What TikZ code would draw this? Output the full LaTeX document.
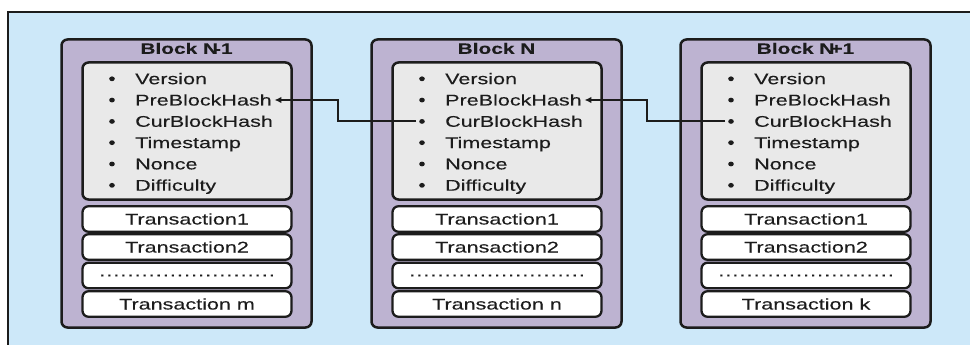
\documentclass[tikz,border=0pt]{standalone}
\usepackage{fontspec}
\setmainfont{Liberation Sans}[FakeStretch=1.39, FakeBold=0.15]
\usetikzlibrary{arrows.meta,shapes.geometric}

\definecolor{panelblue}{RGB}{205,232,249}
\definecolor{blockpurple}{RGB}{189,179,209}
\definecolor{headgray}{RGB}{233,233,233}
\definecolor{ink}{RGB}{28,28,28}

% one evenly spaced dot of the filler row
\newcommand\txdot{\hbox to 7.06pt{\hss.\hss}}

\tikzset{
  basefont/.style={font=\fontsize{15.5}{18}\selectfont},
  blockbox/.style={draw=ink, line width=2.5pt, fill=blockpurple, rounded corners=6pt,
    minimum width=250pt, minimum height=288pt, inner sep=0pt},
  headbox/.style={draw=ink, line width=2.5pt, fill=headgray, rounded corners=6pt,
    minimum width=209pt, minimum height=137pt, inner sep=0pt},
  txbox/.style={draw=ink, line width=2.3pt, fill=white, rounded corners=6pt,
    minimum width=209pt, minimum height=25.5pt, inner sep=0pt,
    text height=11pt, text depth=0pt, text=ink, basefont},
  blocktitle/.style={inner sep=0pt, text height=11pt, text depth=0pt, text=ink,
    font=\bfseries\fontsize{15}{18}\selectfont},
  fieldtext/.style={anchor=base west, inner xsep=2.5pt, inner ysep=0pt,
    text height=11pt, text depth=0pt, text=ink, basefont},
  bulletmark/.style={ellipse, fill=ink, inner sep=0pt,
    minimum width=5.6pt, minimum height=4.8pt},
  link/.style={draw=ink, line width=2pt, -{Latex[length=7pt,width=6.5pt]}},
}

\begin{document}
\begin{tikzpicture}[x=1pt,y=-1pt]
  \useasboundingbox (0,0) rectangle (970,345);

  % panel behind the chain
  \fill[white] (0,0) rectangle (970,345);
  \fill[panelblue] (8,12) rectangle (970,345);
  \draw[ink, line width=1.6pt] (8,345) -- (8,12) -- (970,12);

  % the three blocks
  \foreach \i/\dx/\ttl/\lastid in {1/0/{Block N\kern-4pt-1}/m,
                                   2/310/{Block N}/n,
                                   3/619/{Block N\kern-4pt+1}/k} {
    \begin{scope}[xshift=\dx pt]
      \node[blockbox] (blk\i) at (186.5,183.5) {};
      \node[blocktitle] (ttl\i) at (186.5,48.3) {\ttl};
      \node[headbox] (hdr\i) at (187,131) {};
      \foreach \nm/\txt [count=\rowno] in {ver/Version, pre/PreBlockHash,
          cur/CurBlockHash, ts/Timestamp, non/Nonce, dif/Difficulty} {
        \node[bulletmark] (b\i-\nm) at (112,{78.8+21.3*(\rowno-1)}) {};
        \node[fieldtext] (f\i-\nm) at (132.5,{84.2+21.3*(\rowno-1)}) {\txt};
      }
      \node[txbox] (ta\i) at (187,219) {Transaction1};
      \node[txbox] (tb\i) at (187,247) {Transaction2};
      \node[txbox, text height=1.6pt] (tc\i) at (187,275.5)
        {\txdot\txdot\txdot\txdot\txdot\txdot\txdot\txdot\txdot\txdot\txdot\txdot\txdot\txdot\txdot\txdot\txdot\txdot\txdot\txdot\txdot\txdot\txdot\txdot\txdot};
      \node[txbox] (td\i) at (187,304) {Transaction \lastid};
    \end{scope}
  }

  % hash links: current hash of a block feeds the previous-hash field of the next
  \draw[link] ([xshift=-3pt]b2-cur.west) -- ++(-78,0) |- (f1-pre.east);
  \draw[link] ([xshift=-3pt]b3-cur.west) -- ++(-78,0) |- (f2-pre.east);
\end{tikzpicture}
\end{document}
